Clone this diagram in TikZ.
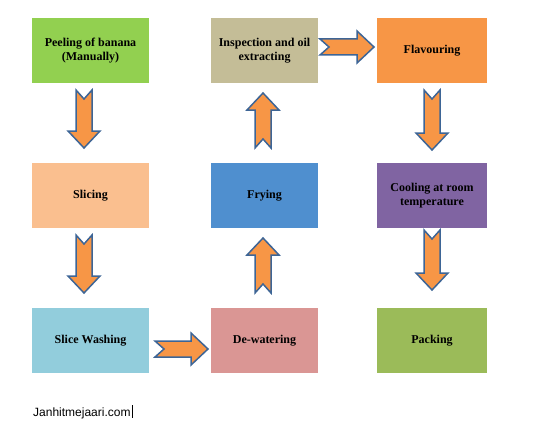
\documentclass[tikz,border=0pt]{standalone}
\usepackage{fontspec}
\setmainfont{Liberation Serif}
\newfontfamily\labelsans{Liberation Sans}
\usetikzlibrary{calc}
\definecolor{cpeel}{HTML}{92D050}
\definecolor{cinsp}{HTML}{C4BD97}
\definecolor{cflav}{HTML}{F79646}
\definecolor{cslice}{HTML}{FABF8F}
\definecolor{cfry}{HTML}{4F8FCF}
\definecolor{ccool}{HTML}{8064A2}
\definecolor{cwash}{HTML}{92CDDC}
\definecolor{cdew}{HTML}{DA9694}
\definecolor{cpack}{HTML}{9BBB59}
\definecolor{arrfill}{HTML}{F79646}
\definecolor{arrline}{HTML}{3D6596}
\tikzset{
  stepbox/.style={draw=none, inner sep=0pt, align=center,
    font=\bfseries\fontsize{12}{14}\selectfont},
  col1/.style={minimum width=117pt, minimum height=65pt},
  col2/.style={minimum width=107pt, minimum height=65pt},
  col3/.style={minimum width=110pt, minimum height=65pt},
  arrowstyle/.style={fill=arrfill, draw=arrline, line width=1.5pt, line join=miter},
  pics/barrow/.style={code={
    \path[arrowstyle] ({-#1/2},-8) -- ({#1/2-17},-8) -- ({#1/2-17},-16) -- ({#1/2},0)
      -- ({#1/2-17},16) -- ({#1/2-17},8) -- ({-#1/2},8) -- ({-#1/2+9},0) -- cycle;
  }}
}
\begin{document}
\begin{tikzpicture}[x=1pt,y=-1pt]
\useasboundingbox (0,0) rectangle (534,425);
% boxes
\node[stepbox,col1,fill=cpeel]  (peel)  at (90.5,50.5)  {Peeling of banana\\(Manually)};
\node[stepbox,col2,fill=cinsp]  (insp)  at (264.5,50.5) {Inspection and oil\\extracting};
\node[stepbox,col3,fill=cflav]  (flav)  at (432,50.5)   {Flavouring};
\node[stepbox,col1,fill=cslice] (slice) at (90.5,195.5) {Slicing};
\node[stepbox,col2,fill=cfry]   (fry)   at (264.5,195.5){Frying};
\node[stepbox,col3,fill=ccool]  (cool)  at (432,195.5)  {Cooling at room\\temperature};
\node[stepbox,col1,fill=cwash]  (wash)  at (90.5,340.5) {Slice Washing};
\node[stepbox,col2,fill=cdew]   (dew)   at (264.5,340.5){De-watering};
\node[stepbox,col3,fill=cpack]  (pack)  at (432,340.5)  {Packing};
% block arrows
\pic[rotate=-90] at ($(peel.south)!0.5!(slice.north)+(-6.5,-4)$) {barrow=58};
\pic[rotate=-90] at ($(slice.south)!0.5!(wash.north)+(-6.5,-4)$) {barrow=58};
\pic at ($(wash.east)!0.5!(dew.west)+(1.5,8.5)$) {barrow=53};
\pic[rotate=90] at ($(dew.north)!0.5!(fry.south)+(-1.5,-2.5)$) {barrow=55};
\pic[rotate=90] at ($(fry.north)!0.5!(insp.south)+(-1.5,-2.5)$) {barrow=55};
\pic at ($(insp.east)!0.5!(flav.west)+(-0.5,-3.5)$) {barrow=54};
\pic[rotate=-90] at ($(flav.south)!0.5!(cool.north)+(0,-3)$) {barrow=60};
\pic[rotate=-90] at ($(cool.south)!0.5!(pack.north)+(0,-8)$) {barrow=60};
% footer
\node[anchor=base west, inner sep=0pt, font=\labelsans\fontsize{12}{14}\selectfont] (web) at (33,416) {Janhitmejaari.com};
\coordinate (curtop) at ($(web.base east)+(2,-11)$);
\coordinate (curbot) at ($(web.base east)+(2,2)$);
\draw[line width=1pt] (curtop) -- (curbot);
\end{tikzpicture}
\end{document}
